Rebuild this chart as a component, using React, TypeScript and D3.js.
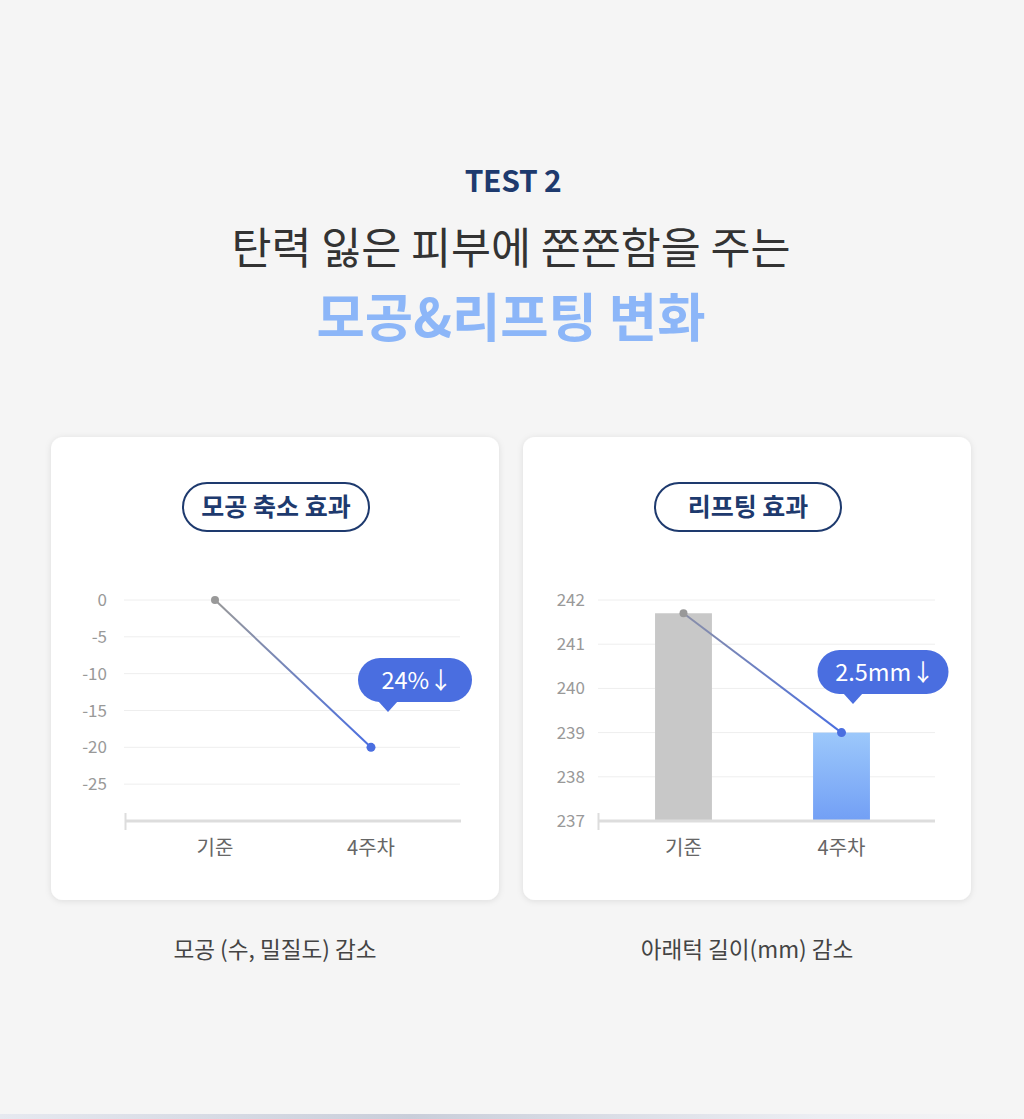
import React from "react";
import * as d3 from "d3";

const categories = ["기준", "4주차"];
const poreValues = [0, -20];
const poreTicks = [0, -5, -10, -15, -20, -25];
const poreDomain = [-30, 0];
const liftValues = [241.7, 239];
const liftTicks = [237, 238, 239, 240, 241, 242];
const liftDomain = [237, 242];
const poreCallout = "24%↓";
const liftCallout = "2.5mm↓";
const poreTitle = "모공 축소 효과";
const liftTitle = "리프팅 효과";
const poreCaption = "모공 (수, 밀질도) 감소";
const liftCaption = "아래턱 길이(mm) 감소";

const FONT = "'Noto Sans CJK KR', 'Noto Sans', sans-serif";
const NAVY = "#1e3a6e";
const BLUE = "#4a6ee0";

function Card({ x, title, caption, children }: any) {
  return (
    <g>
      <rect x={x} y={437} width={448} height={463} rx={12} fill="#fff" filter="url(#shadow)" />
      <rect x={x + 132} y={483} width={186} height={48} rx={24} fill="#fff" stroke={NAVY} strokeWidth={2} />
      <text x={x + 225} y={516} textAnchor="middle" fontSize={25} fontWeight={700} fill={NAVY} fontFamily={FONT}>{title}</text>
      {children}
      <text x={x + 224} y={958} textAnchor="middle" fontSize={22.6} fill="#444" fontFamily={FONT}>{caption}</text>
    </g>
  );
}

function Callout({ cx, tailX, y, w, label }: any) {
  const h = 44;
  const left = cx - w / 2;
  return (
    <g>
      <rect x={left} y={y} width={w} height={h} rx={22} fill={BLUE} />
      <path d={`M${tailX - 10},${y + h - 1} L${tailX},${y + h + 10} L${tailX + 10},${y + h - 1} Z`} fill={BLUE} />
      <text x={cx + 2} y={y + 31} textAnchor="middle" fontSize={23.5} fill="#fff" fontFamily={FONT}>{label}</text>
    </g>
  );
}

function PoreChart() {
  const y = d3.scaleLinear().domain(poreDomain).range([821, 600]);
  const x = d3.scalePoint().domain(categories).range([125, 461]).padding(0.577);
  const pts = categories.map((c, i) => [x(c) as number, y(poreValues[i])]);
  const line = d3.line()(pts as any) as string;
  return (
    <g fontFamily={FONT}>
      {poreTicks.map((t) => (
        <g key={t}>
          <line x1={124} x2={460} y1={y(t)} y2={y(t)} stroke="#eeeeee" strokeWidth={1} />
          <text x={107} y={y(t) + 6} textAnchor="end" fontSize={17} fill="#999">{t}</text>
        </g>
      ))}
      <line x1={125} x2={461} y1={821} y2={821} stroke="#dddddd" strokeWidth={3} />
      <line x1={125.5} x2={125.5} y1={813} y2={830} stroke="#dddddd" strokeWidth={2} />
      {categories.map((c) => (
        <text key={c} x={x(c)} y={855} textAnchor="middle" fontSize={20} fill="#666">{c}</text>
      ))}
      <path d={line} stroke="url(#lineGradL)" strokeWidth={2} fill="none" />
      <circle cx={pts[0][0]} cy={pts[0][1]} r={4} fill="#999" />
      <circle cx={pts[1][0]} cy={pts[1][1]} r={4.5} fill={BLUE} />
      <Callout cx={415} tailX={388} y={658} w={114} label={poreCallout} />
    </g>
  );
}

function LiftChart() {
  const y = d3.scaleLinear().domain(liftDomain).range([821, 600]);
  const x = d3.scaleBand().domain(categories).range([598, 927]).paddingInner(0.64).paddingOuter(0.361);
  const bw = x.bandwidth();
  const pts = categories.map((c, i) => [(x(c) as number) + bw / 2, y(liftValues[i])]);
  const line = d3.line()(pts as any) as string;
  return (
    <g fontFamily={FONT}>
      {liftTicks.map((t) => (
        <g key={t}>
          <line x1={598} x2={935} y1={y(t)} y2={y(t)} stroke="#eeeeee" strokeWidth={1} />
          <text x={585} y={y(t) + 6} textAnchor="end" fontSize={17} fill="#999">{t}</text>
        </g>
      ))}
      {categories.map((c, i) => (
        <rect key={c} x={x(c)} y={y(liftValues[i])} width={bw} height={821 - y(liftValues[i])}
          fill={i === 0 ? "#c8c8c8" : "url(#barGrad)"} />
      ))}
      <line x1={598} x2={935} y1={821} y2={821} stroke="#dddddd" strokeWidth={3} />
      <line x1={598.5} x2={598.5} y1={813} y2={830} stroke="#dddddd" strokeWidth={2} />
      {categories.map((c) => (
        <text key={c} x={(x(c) as number) + bw / 2} y={855} textAnchor="middle" fontSize={20} fill="#666">{c}</text>
      ))}
      <path d={line} stroke="url(#lineGradR)" strokeWidth={2} fill="none" />
      <circle cx={pts[0][0]} cy={pts[0][1]} r={4} fill="#999" />
      <circle cx={pts[1][0]} cy={pts[1][1]} r={4.5} fill={BLUE} />
      <Callout cx={883} tailX={853} y={650} w={131} label={liftCallout} />
    </g>
  );
}

export default function App() {
  return (
    <div style={{ position: "absolute", left: 0, top: 0, width: 1024, height: 1119 }}>
      <svg width={1024} height={1119} style={{ display: "block" }}>
        <defs>
          <filter id="shadow" x="-10%" y="-10%" width="120%" height="120%">
            <feDropShadow dx={0} dy={1} stdDeviation={3} floodColor="#000" floodOpacity={0.1} />
          </filter>
          <linearGradient id="lineGradL" gradientUnits="userSpaceOnUse" x1={215} y1={600} x2={371} y2={747}>
            <stop offset="0%" stopColor="#999" />
            <stop offset="100%" stopColor={BLUE} />
          </linearGradient>
          <linearGradient id="lineGradR" gradientUnits="userSpaceOnUse" x1={684} y1={613} x2={841} y2={733}>
            <stop offset="0%" stopColor="#8a8fa8" />
            <stop offset="100%" stopColor={BLUE} />
          </linearGradient>
          <linearGradient id="barGrad" x1="0" y1="0" x2="0" y2="1">
            <stop offset="0%" stopColor="#9cc8fb" />
            <stop offset="100%" stopColor="#729ff5" />
          </linearGradient>
          <linearGradient id="bottomGrad" x1="0" y1="0" x2="1" y2="0">
            <stop offset="0%" stopColor="#e6e9f0" />
            <stop offset="40%" stopColor="#c9ceda" />
            <stop offset="80%" stopColor="#eceef3" />
            <stop offset="100%" stopColor="#f5f5f5" />
          </linearGradient>
        </defs>
        <rect x={0} y={0} width={1024} height={1119} fill="#f5f5f5" />
        <rect x={0} y={1114} width={1024} height={5} fill="url(#bottomGrad)" />
        <text x={513} y={192} textAnchor="middle" fontSize={30} fontWeight={700} fill={NAVY} fontFamily={FONT} letterSpacing={-0.3}>TEST 2</text>
        <text x={511} y={264} textAnchor="middle" fontSize={43.5} fill="#333" fontFamily={FONT}>탄력 잃은 피부에 쫀쫀함을 주는</text>
        <text x={511} y={337} textAnchor="middle" fontSize={52.5} fontWeight={700} fill="#8cb6f8" fontFamily={FONT}>모공&리프팅 변화</text>
        <Card x={51} title={poreTitle} caption={poreCaption}>
          <PoreChart />
        </Card>
        <Card x={523} title={liftTitle} caption={liftCaption}>
          <LiftChart />
        </Card>
      </svg>
    </div>
  );
}
